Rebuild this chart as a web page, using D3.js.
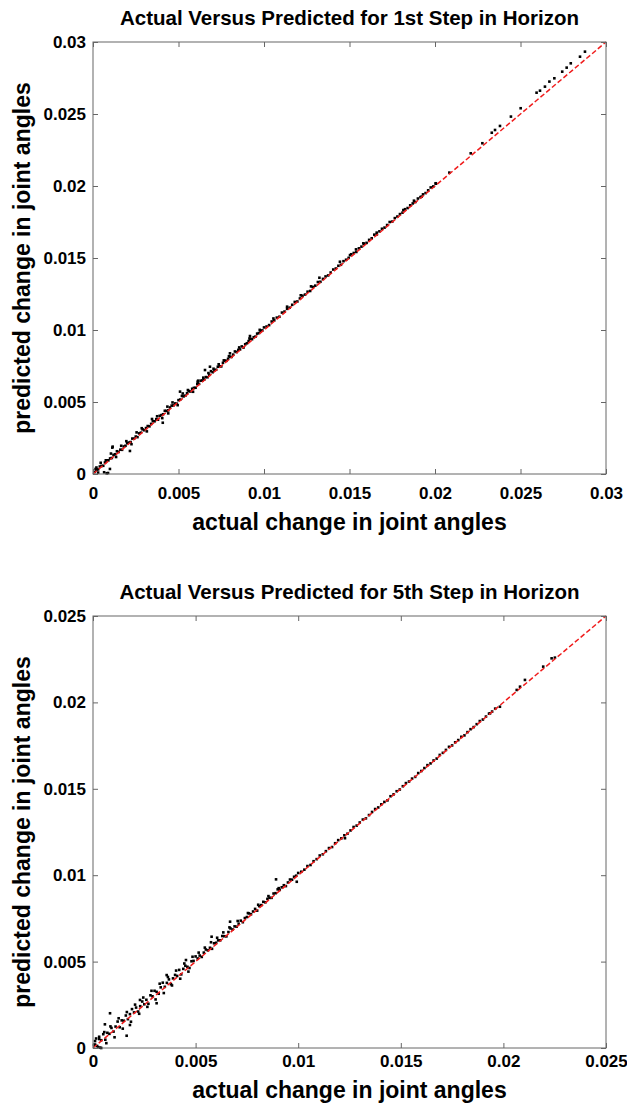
<!DOCTYPE html>
<html>
<head>
<meta charset="utf-8">
<script src="https://cdn.jsdelivr.net/npm/d3@7"></script>
<style>
  body { margin: 0; background: #fff; }
  svg { display: block; font-family: "Liberation Sans", Arial, sans-serif; }
  .tick text { font-weight: bold; font-size: 17px; fill: #000; }
</style>
</head>
<body>
<svg id="chart" width="627" height="1105"></svg>
<script>
// panel 1: 1st step in horizon
const titles = ["Actual Versus Predicted for 1st Step in Horizon",
                "Actual Versus Predicted for 5th Step in Horizon"];
const ticks1 = [0, 0.005, 0.01, 0.015, 0.02, 0.025, 0.03];
const ticks2 = [0, 0.005, 0.01, 0.015, 0.02, 0.025];
const tickLabels1 = ["0", "0.005", "0.01", "0.015", "0.02", "0.025", "0.03"];
const tickLabels2 = ["0", "0.005", "0.01", "0.015", "0.02", "0.025"];

const actual1 = [
  // dense band 0 - 0.01
  .0001,.0002,.0003,.0004,.0005,.0006,.0007,.0008,.0009,.0010,
  .0011,.0012,.0013,.0014,.0015,.0016,.0017,.0018,.0019,.0020,
  .0021,.0022,.0023,.0024,.0025,.0026,.0027,.0028,.0029,.0030,
  .0031,.0032,.0033,.0034,.0035,.0036,.0037,.0038,.0039,.0040,
  .0041,.0042,.0043,.0044,.0045,.0046,.0047,.0048,.0049,.0050,
  .0051,.0052,.0053,.0054,.0055,.0056,.0057,.0058,.0059,.0060,
  .0061,.0062,.0063,.0064,.0065,.0066,.0067,.0068,.0069,.0070,
  .0071,.0072,.0073,.0074,.0075,.0076,.0077,.0078,.0079,.0080,
  .0081,.0082,.0083,.0084,.0085,.0086,.0087,.0088,.0089,.0090,
  .0091,.0092,.0093,.0094,.0095,.0096,.0097,.0098,.0099,.0100,
  // band 0.01 - 0.02
  .01015,.0103,.01045,.0106,.01075,.0109,.01105,.0112,.01135,.0115,
  .01165,.0118,.01195,.0121,.01225,.0124,.01255,.0127,.01285,.013,
  .01315,.0133,.01345,.0136,.01375,.0139,.01405,.0142,.01435,.0145,
  .01465,.0148,.01495,.0151,.01525,.0154,.01555,.0157,.01585,.016,
  .01615,.0163,.01645,.0166,.01675,.0169,.01705,.0172,.01735,.0175,
  .01765,.0178,.01795,.0181,.01825,.0184,.01855,.0187,.01885,.019,
  .01915,.0193,.01945,.0196,.01975,.0199,.02005,
  // extra scatter
  .00015,.00045,.00075,.00105,.00135,.00165,.00195,.00225,.00255,.00285,
  .00315,.00345,.00375,.00405,.00435,.00465,.00495,.00525,.00555,.00585,
  .00615,.00645,.00675,.00705,.00735,.00765,.00795,.00855,.00915,.00975,
  .01055,.01135,.01215,.01275,
  // outliers and sparse upper points
  .0008,.00099,.00113,.00115,.00216,.00509,.00408,.0044,.00655,.00684,
  .00612,.00801,.00918,.01324,.01444,.01503,.01538,.01581,.01659,.01815,
  .01877,.01922,.02004,.02084,.00088,.00065,.0002,.0003,
  .02209,.02277,.02332,.02351,.0238,.02444,.02501,.02594,.02614,.02643,
  .02669,.02698,.02744,.0277,.02794,.02848,.02877
];
const predicted1 = [
  .00014,.00029,.00032,.00052,.00056,.00057,.0008,.00095,.00095,.00108,
  .00111,.00133,.00137,.00158,.00153,.00169,.00168,.00191,.00196,.00214,
  .00218,.00222,.00246,.00245,.0026,.00256,.00282,.00287,.0031,.00304,
  .00319,.00333,.00331,.00348,.00367,.00366,.00381,.00377,.00404,.00409,
  .00415,.00439,.00438,.00442,.00462,.00475,.00476,.0049,.00488,.00513,
  .00517,.00542,.00539,.00544,.00561,.00576,.00573,.00592,.00598,.00599,
  .00624,.00626,.00648,.0065,.00655,.00673,.00672,.00689,.00714,.00707,
  .00721,.00724,.00745,.00748,.00747,.00772,.00787,.00786,.008,.00814,
  .00813,.00829,.00851,.00847,.00862,.00865,.00886,.00878,.00901,.00908,
  .00923,.00939,.00936,.0095,.00954,.00975,.00979,.00992,.00997,.01018,
  .01024,.01034,.01059,.01067,.01086,.01092,.01121,.01128,.01147,.01155,
  .01175,.01195,.01198,.01219,.01238,.01246,.01266,.01271,.01299,.01308,
  .01333,.01335,.01355,.01372,.01379,.01399,.0142,.01427,.01446,.01453,
  .01478,.01488,.01501,.01526,.01535,.01542,.01567,.01579,.01599,.01605,
  .01626,.01637,.01662,.01664,.01685,.01703,.01711,.01729,.0175,.01753,
  .01777,.01788,.01805,.01815,.01839,.01847,.01866,.01879,.01889,.01913,
  .01923,.01942,.01951,.0197,.0199,.01997,.02016,
  .00035,.00078,.00095,.00142,.00118,.00196,.00228,.00207,.00289,.00318,
  .00296,.00382,.00401,.00388,.00468,.00497,.00478,.00559,.00583,.00571,
  .00648,.00669,.00701,.00731,.00762,.00789,.00818,.00879,.00941,.01001,
  .0108,.01162,.01241,.01303,
  .00005,.00035,.00183,.0019,.0016,.00572,.00356,.00421,.00722,.00745,
  .00641,.00838,.00958,.01363,.01474,.0152,.0156,.01602,.01676,.01833,
  .01898,.01926,.02019,.02093,.00007,.00012,.00045,.0001,
  .02227,.02297,.0237,.02389,.02417,.02482,.0254,.02648,.02662,.0269,
  .02725,.02748,.02794,.02822,.02852,.02898,.02933
];

// panel 2: 5th step in horizon
const actual2 = [
  .0001,.0002,.0003,.0004,.0005,.0006,.0007,.0008,.0009,.0010,
  .0011,.0012,.0013,.0014,.0015,.0016,.0017,.0018,.0019,.0020,
  .0021,.0022,.0023,.0024,.0025,.0026,.0027,.0028,.0029,.0030,
  .0031,.0032,.0033,.0034,.0035,.0036,.0037,.0038,.0039,.0040,
  .0041,.0042,.0043,.0044,.0045,.0046,.0047,.0048,.0049,.0050,
  .0051,.0052,.0053,.0054,.0055,.0056,.0057,.0058,.0059,.0060,
  .0061,.0062,.0063,.0064,.0065,.0066,.0067,.0068,.0069,.0070,
  .0071,.0072,.0073,.0074,.0075,.0076,.0077,.0078,.0079,.0080,
  .0081,.0082,.0083,.0084,.0085,.0086,.0087,.0088,.0089,.0090,
  .0091,.0092,.0093,.0094,.0095,.0096,.0097,.0098,.0099,.0100,
  .01015,.0103,.01045,.0106,.01075,.0109,.01105,.0112,.01135,.0115,
  .01165,.0118,.01195,.0121,.01225,.0124,.01255,.0127,.01285,.013,
  .01315,.0133,.01345,.0136,.01375,.0139,.01405,.0142,.01435,.0145,
  .01465,.0148,.01495,.0151,.01525,.0154,.01555,.0157,.01585,.016,
  .01615,.0163,.01645,.0166,.01675,.0169,.01705,.0172,.01735,.0175,
  .01765,.0178,.01795,.0181,.01825,.0184,.01855,.0187,.01885,.019,
  .01915,.0193,.01945,.0196,
  .00015,.00035,.00055,.00065,.00085,.00105,.00125,.00145,.00165,.00185,
  .00205,.00225,.00245,.00265,.00285,.00305,.00325,.00345,.00365,.00385,
  .00405,.00425,.00445,.00465,.00485,.00515,.00545,.00575,.00605,.00635,
  .00665,.00705,.00755,.00805,.00855,.00905,
  .00083,.00058,.0018,.00164,.00229,.0031,.00359,.00453,.00578,.00668,
  .00005,.00892,.00993,.01228,.00025,.0001,.0004,.0003,
  .01935,.01983,.02065,.02081,.02105,.02194,.02235,.02251
];
const predicted2 = [
  .0002,.00012,.00052,.00045,.0008,.00048,.00088,.00082,.00116,.00095,
  .00124,.00153,.0012,.0016,.00158,.00188,.00167,.00196,.00225,.00206,
  .00234,.00211,.00242,.00269,.00253,.00279,.00256,.00305,.00299,.00331,
  .00325,.00314,.00351,.00378,.00354,.00377,.00397,.00369,.00403,.00423,
  .00417,.00452,.00426,.00458,.00476,.0047,.00463,.00502,.00504,.0053,
  .00518,.00535,.00527,.00552,.0057,.00565,.0058,.00574,.00606,.00609,
  .00623,.00623,.00648,.00647,.00646,.00671,.00692,.00686,.00704,.00702,
  .00719,.00737,.00728,.00752,.00758,.00779,.00774,.0079,.00805,.00795,
  .00821,.00827,.00846,.00843,.00863,.00869,.00869,.00894,.00896,.00918,
  .00915,.0093,.00942,.00937,.00958,.00975,.00974,.00991,.00997,.01013,
  .0102,.01032,.01053,.01059,.01081,.01093,.01114,.01121,.01139,.01157,
  .01163,.01185,.01203,.01213,.01231,.0124,.01259,.01279,.01287,.01305,
  .01322,.01329,.01348,.01366,.01383,.01392,.0141,.01424,.01433,.01457,
  .01468,.01486,.01496,.01515,.01533,.01542,.01559,.01569,.01591,.01603,
  .0162,.01637,.01647,.01664,.01675,.01696,.01708,.01725,.01743,.01751,
  .01769,.01782,.01801,.01809,.01828,.01845,.01857,.01874,.01892,.01901,
  .01918,.01935,.01947,.01964,
  .00055,.00002,.00092,.00028,.00125,.00062,.00172,.00112,.00208,.00152,
  .00251,.00198,.00292,.00238,.00331,.00281,.00372,.00318,.00411,.00362,
  .00448,.00401,.00489,.00442,.00528,.00552,.00581,.00612,.00638,.00669,
  .00698,.00735,.00781,.00829,.00879,.00925,
  .00201,.00137,.00133,.00071,.00278,.00259,.00422,.00509,.00644,.00731,
  .00017,.00976,.00962,.01214,.00005,.0004,.0,.00065,
  .01937,.01975,.02072,.02091,.0213,.02207,.02255,.02259
];

const svg = d3.select("#chart");

const panels = [
  { top: 42, bottom: 474, max: 0.03, ticks: ticks1, labels: tickLabels1,
    title: titles[0], x: actual1, y: predicted1, tickPad: 13, xlabGap: 56 },
  { top: 616, bottom: 1048, max: 0.025, ticks: ticks2, labels: tickLabels2,
    title: titles[1], x: actual2, y: predicted2, tickPad: 7, xlabGap: 50 }
];
const left = 93, right = 606;

panels.forEach(p => {
  const x = d3.scaleLinear().domain([0, p.max]).range([left, right]);
  const y = d3.scaleLinear().domain([0, p.max]).range([p.bottom, p.top]);
  const fmt = d => p.labels[p.ticks.indexOf(d)];
  const g = svg.append("g");

  // points
  g.append("g").selectAll("rect")
    .data(p.x.map((v, i) => [v, p.y[i]]))
    .enter().append("rect")
    .attr("x", d => x(d[0]) - 1.3)
    .attr("y", d => y(d[1]) - 1.3)
    .attr("width", 2.6).attr("height", 2.6)
    .attr("fill", "#000");

  // y = x line
  g.append("line")
    .attr("x1", x(0)).attr("y1", y(0))
    .attr("x2", x(p.max)).attr("y2", y(p.max))
    .attr("stroke", "#f01c1c").attr("stroke-width", 1.5)
    .attr("stroke-dasharray", "5,2.5");

  // axes, ticks inside the box
  const axB = g.append("g").attr("transform", `translate(0,${p.bottom})`)
    .call(d3.axisBottom(x).tickValues(p.ticks).tickFormat(fmt).tickSize(-5).tickPadding(p.tickPad));
  const axT = g.append("g").attr("transform", `translate(0,${p.top})`)
    .call(d3.axisTop(x).tickValues(p.ticks).tickFormat("").tickSize(-5));
  const axL = g.append("g").attr("transform", `translate(${left},0)`)
    .call(d3.axisLeft(y).tickValues(p.ticks).tickFormat(fmt).tickSize(-5).tickPadding(7));
  const axR = g.append("g").attr("transform", `translate(${right},0)`)
    .call(d3.axisRight(y).tickValues(p.ticks).tickFormat("").tickSize(-5));
  [axB, axT, axL, axR].forEach(a => {
    a.select(".domain").remove();
    a.selectAll(".tick line").attr("stroke", "#666");
  });

  g.append("rect")
    .attr("x", left).attr("y", p.top)
    .attr("width", right - left).attr("height", p.bottom - p.top)
    .attr("fill", "none").attr("stroke", "#666").attr("stroke-width", 1);

  g.append("text")
    .attr("x", (left + right) / 2).attr("y", p.top - 17)
    .attr("text-anchor", "middle")
    .attr("font-size", 20.5).attr("font-weight", "bold")
    .text(p.title);

  g.append("text")
    .attr("x", (left + right) / 2).attr("y", p.bottom + p.xlabGap)
    .attr("text-anchor", "middle")
    .attr("font-size", 23).attr("font-weight", "bold")
    .text("actual change in joint angles");

  g.append("text")
    .attr("transform", `translate(30,${(p.top + p.bottom) / 2}) rotate(-90)`)
    .attr("text-anchor", "middle")
    .attr("font-size", 23).attr("font-weight", "bold")
    .text("predicted change in joint angles");
});
</script>
</body>
</html>
